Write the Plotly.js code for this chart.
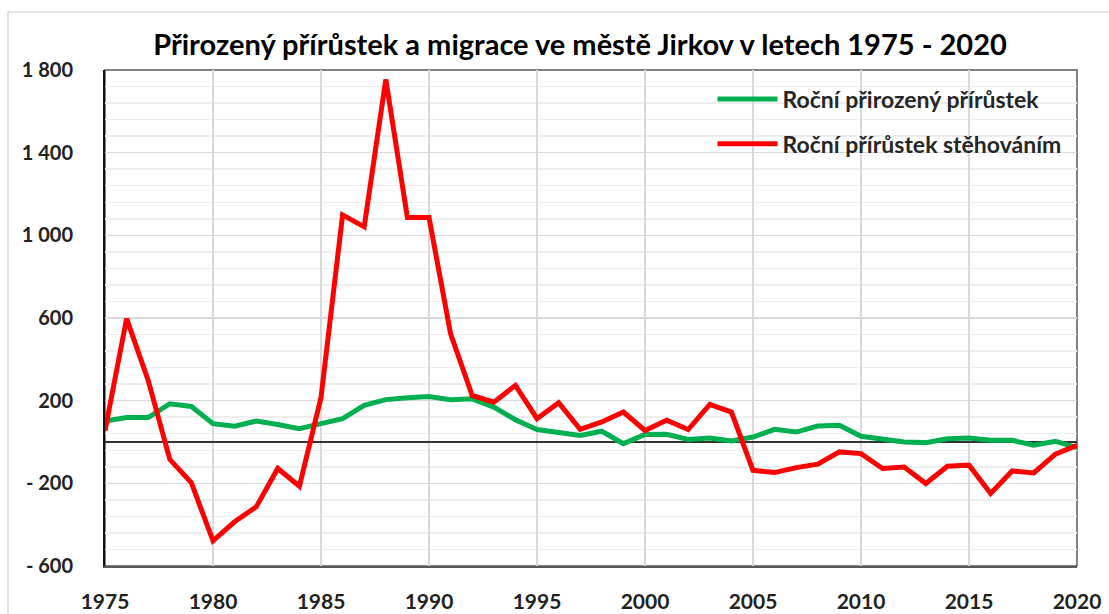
<!DOCTYPE html>
<html>
<head>
<meta charset="utf-8">
<script src="https://cdn.plot.ly/plotly-3.0.1.min.js"></script>
<style>html,body{margin:0;padding:0;background:#fff;}#chart{width:1109px;height:614px;}</style>
</head>
<body>
<div id="chart"></div>
<script>
const years = [];
for (let y = 1975; y <= 2020; y++) years.push(y);

const natural = [101, 118, 118, 185, 172, 89, 76, 101, 85, 64,
                 89, 113, 177, 205, 214, 220, 205, 209, 169, 108,
                 60, 45, 32, 52, -8, 36, 37, 12, 19, 5,
                 24, 61, 48, 77, 81, 28, 12, 0, -3, 16,
                 19, 8, 8, -16, 3, -27];

const migration = [55, 597, 298, -84, -198, -478, -386, -314, -128, -214,
                   215, 1099, 1041, 1754, 1086, 1086, 523, 225, 193, 274,
                   113, 190, 61, 97, 145, 56, 105, 60, 182, 145,
                   -137, -148, -124, -107, -48, -56, -128, -121, -201, -117,
                   -112, -249, -140, -150, -59, -16];

const yTickVals = [-600, -200, 200, 600, 1000, 1400, 1800];
const yTickText = ['- 600', '- 200', '200', '600', '1 000', '1 400', '1 800'];
const xTickVals = [1975, 1980, 1985, 1990, 1995, 2000, 2005, 2010, 2015, 2020];

const seriesNames = ['Roční přirozený přírůstek', 'Roční přírůstek stěhováním'];

const FONT = 'Lato, "Open Sans", sans-serif';

const traces = [
  {x: years, y: natural, name: seriesNames[0], legendgroup: 'a', type: 'scatter', mode: 'lines',
   line: {color: '#00B050', width: 5}},
  {x: years, y: migration, name: seriesNames[1], legendgroup: 'b', type: 'scatter', mode: 'lines',
   line: {color: '#FF0000', width: 5}}
];

const layout = {
  width: 1109, height: 614,
  margin: {l: 105, r: 32, t: 70, b: 48},
  paper_bgcolor: '#fff', plot_bgcolor: '#fff',
  title: {text: '<b>Přirozený přírůstek a migrace ve městě Jirkov v letech 1975 - 2020</b>',
          font: {family: FONT, size: 29, color: '#000'}, x: 0.523, xanchor: 'center', y: 0.927, yanchor: 'middle'},
  showlegend: true,
  legend: {x: 0.625, y: 0.985, xanchor: 'left', yanchor: 'top', bgcolor: 'rgba(255,255,255,0)',
           font: {family: FONT, size: 23, color: '#262626', weight: 'bold'}, tracegroupgap: 12,
           traceorder: 'grouped', itemwidth: 60},
  xaxis: {range: [1975, 2020], tickvals: xTickVals, showgrid: true, gridcolor: '#d9d9d9', gridwidth: 1.5,
          zeroline: false, showline: true, linecolor: '#595959', linewidth: 1.5,
          tickfont: {family: FONT, size: 21, color: '#222', weight: 'bold'}, ticks: '', ticklabelstandoff: 16,
          fixedrange: true},
  yaxis: {range: [-600, 1800], tickvals: yTickVals, ticktext: yTickText, showgrid: true, gridcolor: '#d9d9d9', gridwidth: 1.5,
          minor: {tick0: -600, dtick: 80, showgrid: true, gridcolor: '#eeeeee', gridwidth: 1.5},
          zeroline: true, zerolinecolor: '#333', zerolinewidth: 1.5,
          showline: true, linecolor: '#111', linewidth: 2,
          tickfont: {family: FONT, size: 20, color: '#222', weight: 'bold'}, ticks: '', ticklabelstandoff: 26,
          fixedrange: true},
  shapes: [
    {type: 'rect', xref: 'paper', yref: 'paper', x0: 0, x1: 1, y0: 0, y1: 1,
     line: {color: '#595959', width: 1.5}, fillcolor: 'rgba(0,0,0,0)', layer: 'below'},
    {type: 'rect', xref: 'paper', yref: 'paper', x0: -97/972, x1: 1.2, y0: -0.2, y1: 1 + 58/496,
     line: {color: '#d9d9d9', width: 1.5}, fillcolor: 'rgba(0,0,0,0)', layer: 'below'}
  ]
};

Plotly.newPlot('chart', traces, layout, {displayModeBar: false, staticPlot: true});
</script>
</body>
</html>
